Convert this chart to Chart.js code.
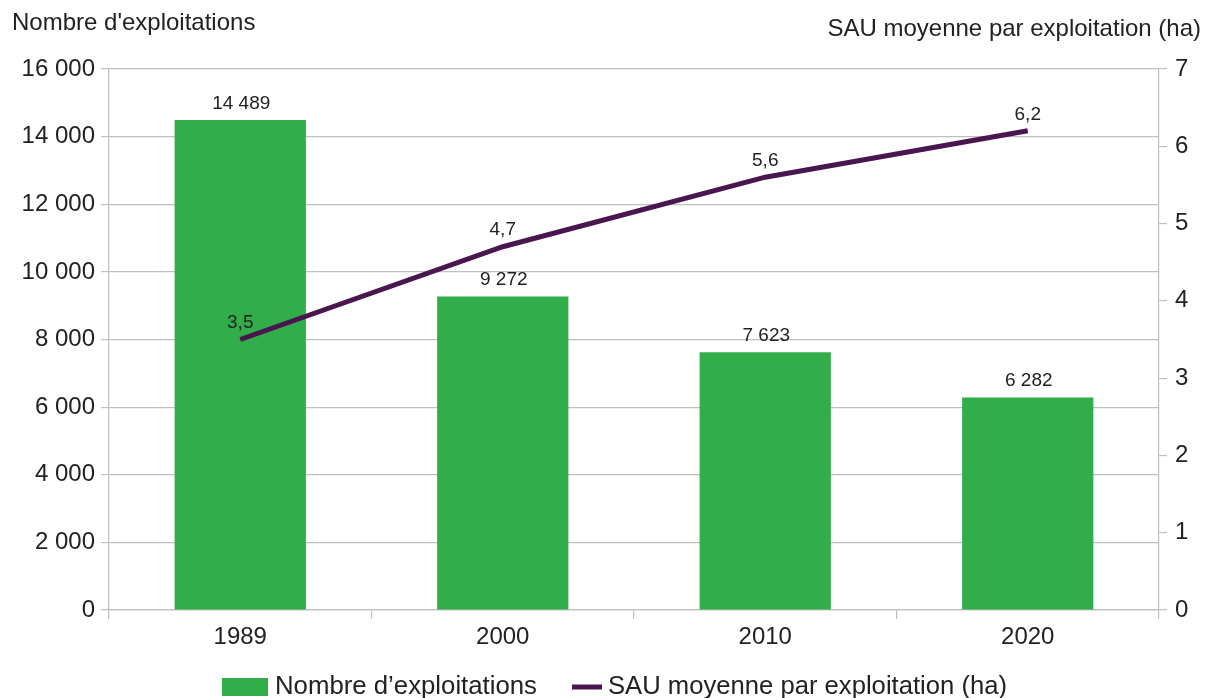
<!DOCTYPE html>
<html>
<head>
<meta charset="utf-8">
<script src="https://cdn.jsdelivr.net/npm/chart.js@4"></script>
<style>
html,body{margin:0;padding:0;background:#fff;}
canvas{display:block;}
</style>
</head>
<body>
<canvas id="c" width="1205" height="698"></canvas>
<script>
const categories = ['1989', '2000', '2010', '2020'];
const exploitations = [14489, 9272, 7623, 6282];
const sauMoyenne = [3.5, 4.7, 5.6, 6.2];
const leftTicks = [0, 2000, 4000, 6000, 8000, 10000, 12000, 14000, 16000];
const rightTicks = [0, 1, 2, 3, 4, 5, 6, 7];
const barLabel = 'Nombre d\u2019exploitations';
const lineLabel = 'SAU moyenne par exploitation (ha)';
const leftTitle = "Nombre d'exploitations";
const rightTitle = 'SAU moyenne par exploitation (ha)';

const FONT = "'Liberation Sans', Arial, sans-serif";
const GREEN = '#31ad4a';
const PURPLE = '#4a1650';
const GRID = '#c0c0c0';
const TEXT = '#222222';

function fmtThousands(v) {
  return String(v).replace(/\B(?=(\d{3})+(?!\d))/g, ' ');
}
function fmtDec(v) {
  return String(v).replace('.', ',');
}

const overlay = {
  id: 'overlay',
  afterDatasetsDraw(chart) {
    const ctx = chart.ctx;
    ctx.save();
    ctx.fillStyle = TEXT;
    // data labels bars
    ctx.font = '19px ' + FONT;
    ctx.textAlign = 'center';
    ctx.textBaseline = 'bottom';
    const m0 = chart.getDatasetMeta(0);
    m0.data.forEach((el, i) => {
      ctx.fillText(fmtThousands(exploitations[i]), el.x + 1, el.y - 7);
    });
    const m1 = chart.getDatasetMeta(1);
    m1.data.forEach((el, i) => {
      ctx.fillText(fmtDec(sauMoyenne[i]), el.x, el.y - 7);
    });
    // axis titles
    ctx.font = '24px ' + FONT;
    ctx.textBaseline = 'alphabetic';
    ctx.textAlign = 'left';
    ctx.fillText(leftTitle, 12, 30);
    ctx.textAlign = 'right';
    ctx.fillText(rightTitle, 1201, 36);
    // legend
    const ly = 687;
    ctx.fillStyle = GREEN;
    ctx.fillRect(222, ly - 9, 46, 18);
    ctx.strokeStyle = PURPLE;
    ctx.lineWidth = 5;
    ctx.beginPath();
    ctx.moveTo(572, ly);
    ctx.lineTo(602, ly);
    ctx.stroke();
    ctx.fillStyle = TEXT;
    ctx.font = '25px ' + FONT;
    ctx.textAlign = 'left';
    ctx.textBaseline = 'middle';
    function drawFit(txt, x, y, w) {
      const mw = ctx.measureText(txt).width;
      ctx.save();
      ctx.translate(x, y);
      ctx.scale(w / mw, 1);
      ctx.fillText(txt, 0, 0);
      ctx.restore();
    }
    drawFit(barLabel, 275, ly, 262);
    drawFit(lineLabel, 608, ly, 399);
    ctx.restore();
  }
};

new Chart(document.getElementById('c'), {
  data: {
    labels: categories,
    datasets: [
      {
        type: 'bar',
        label: barLabel,
        data: exploitations,
        backgroundColor: GREEN,
        borderWidth: 0,
        barPercentage: 0.5,
        categoryPercentage: 1,
        yAxisID: 'y',
        order: 2
      },
      {
        type: 'line',
        label: lineLabel,
        data: sauMoyenne,
        borderColor: PURPLE,
        backgroundColor: PURPLE,
        borderWidth: 5,
        pointRadius: 0,
        tension: 0,
        yAxisID: 'y1',
        order: 1
      }
    ]
  },
  options: {
    responsive: false,
    animation: false,
    devicePixelRatio: 1,
    layout: { padding: { top: 69, bottom: 0, left: 0, right: 0 } },
    plugins: {
      legend: { display: false },
      tooltip: { enabled: false }
    },
    scales: {
      x: {
        offset: true,
        grid: { offset: true, drawOnChartArea: false, color: GRID, tickLength: 9, lineWidth: 1.2 },
        border: { color: GRID, width: 1.2 },
        ticks: { color: TEXT, font: { family: FONT, size: 24 }, padding: 4 },
        afterFit(s) { s.height = 88; }
      },
      y: {
        position: 'left',
        min: 0, max: 16000,
        afterBuildTicks(s) { s.ticks = leftTicks.map(v => ({ value: v })); },
        grid: { color: GRID, tickLength: 8, lineWidth: 1.2 },
        border: { color: GRID, width: 1.2 },
        ticks: {
          color: TEXT, font: { family: FONT, size: 24 }, padding: 6,
          callback: v => fmtThousands(v)
        },
        afterFit(s) { s.width = 109; }
      },
      y1: {
        position: 'right',
        min: 0, max: 7,
        afterBuildTicks(s) { s.ticks = rightTicks.map(v => ({ value: v })); },
        grid: { drawOnChartArea: false, color: GRID, tickLength: 8, lineWidth: 1.2 },
        border: { color: GRID, width: 1.2 },
        ticks: { color: TEXT, font: { family: FONT, size: 24 }, padding: 8 },
        afterFit(s) { s.width = 46; }
      }
    }
  },
  plugins: [overlay]
});
</script>
</body>
</html>
